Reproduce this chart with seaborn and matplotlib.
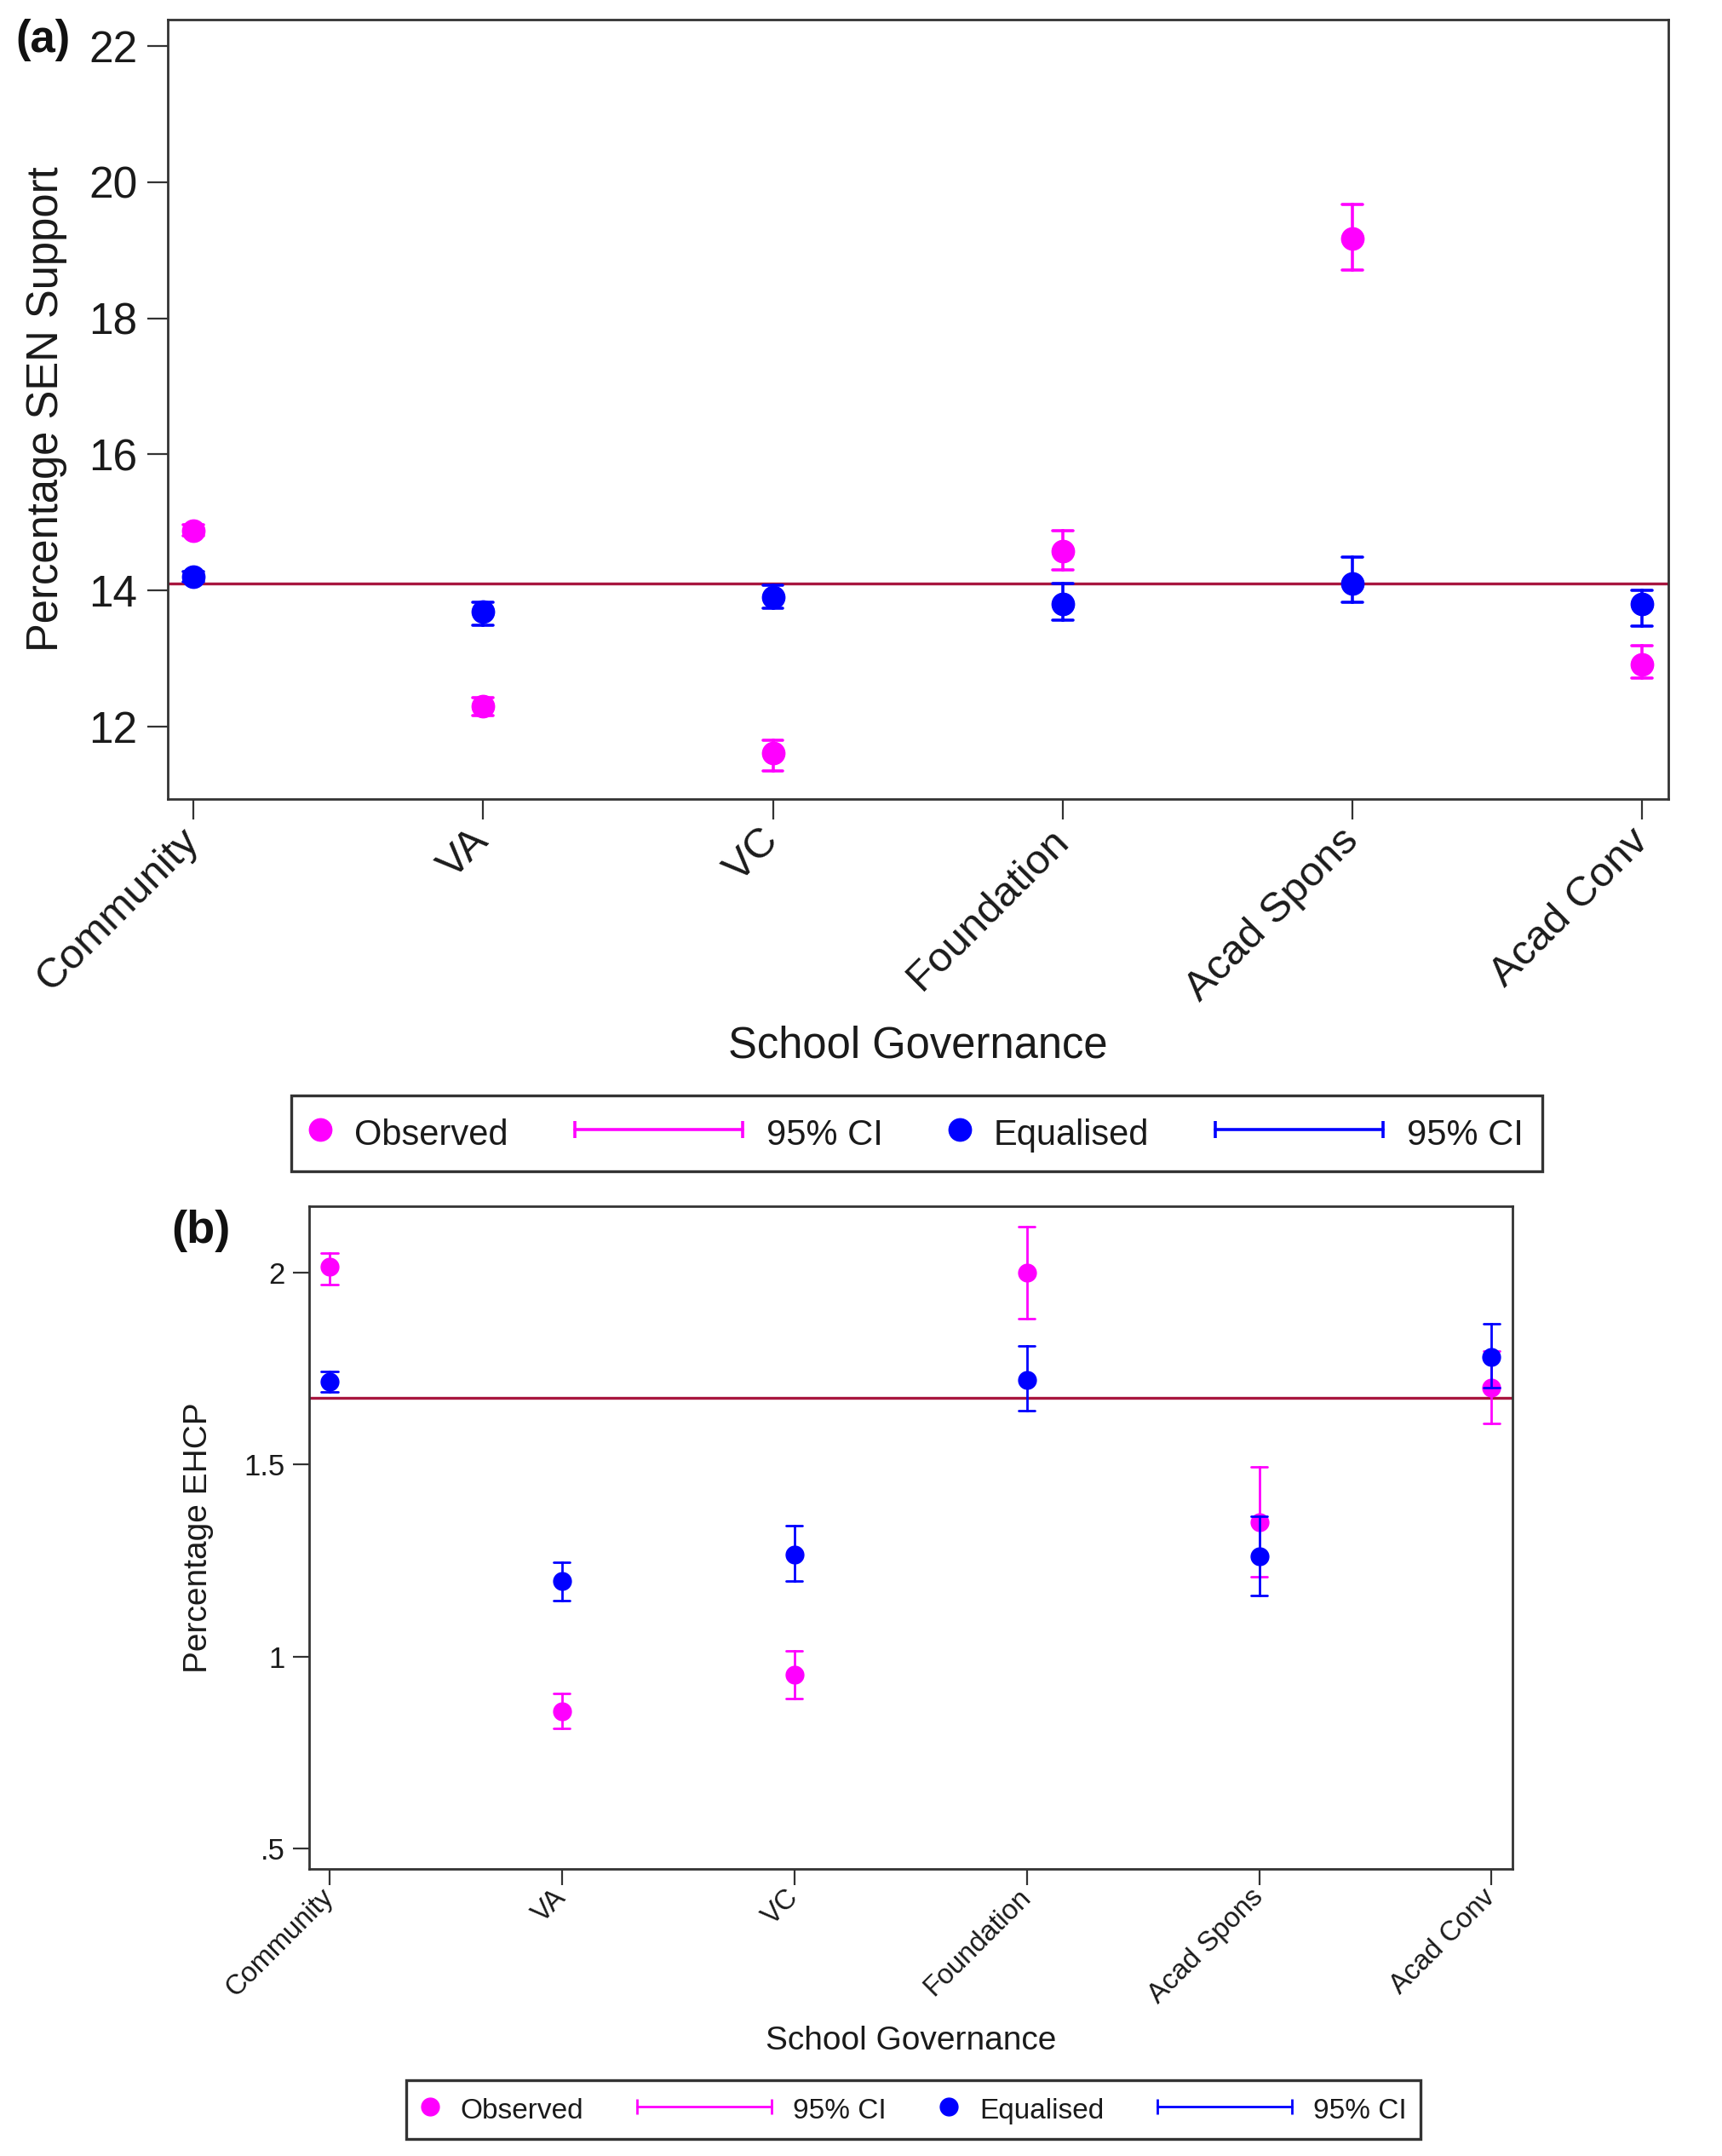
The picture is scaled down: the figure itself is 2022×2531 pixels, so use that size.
import pandas as pd
import matplotlib.pyplot as plt
import seaborn as sns
from matplotlib.lines import Line2D
from matplotlib.legend_handler import HandlerLine2D
from matplotlib.transforms import ScaledTranslation

governance = ['Community', 'VA', 'VC', 'Foundation', 'Acad Spons', 'Acad Conv']
series_order = ['Observed', 'Equalised']

# (a) percentage SEN support
sen_obs = [14.88, 12.29, 11.61, 14.58, 19.17, 12.91]
sen_obs_lo = [14.80, 12.16, 11.34, 14.30, 18.71, 12.71]
sen_obs_hi = [14.96, 12.42, 11.80, 14.88, 19.67, 13.19]
sen_eq = [14.20, 13.68, 13.90, 13.80, 14.10, 13.80]
sen_eq_lo = [14.13, 13.48, 13.73, 13.56, 13.82, 13.47]
sen_eq_hi = [14.27, 13.82, 14.07, 14.10, 14.49, 14.00]
sen_overall = 14.1
sen_ticks = [12, 14, 16, 18, 20, 22]
sen_ticklabels = ['12', '14', '16', '18', '20', '22']

# (b) percentage EHCP
ehcp_obs = [2.015, 0.857, 0.953, 2.00, 1.35, 1.70]
ehcp_obs_lo = [1.97, 0.814, 0.89, 1.88, 1.207, 1.607]
ehcp_obs_hi = [2.05, 0.904, 1.015, 2.12, 1.495, 1.795]
ehcp_eq = [1.716, 1.196, 1.265, 1.72, 1.262, 1.78]
ehcp_eq_lo = [1.69, 1.146, 1.196, 1.64, 1.16, 1.70]
ehcp_eq_hi = [1.743, 1.245, 1.34, 1.81, 1.366, 1.867]
ehcp_overall = 1.674
ehcp_ticks = [0.5, 1, 1.5, 2]
ehcp_ticklabels = ['.5', '1', '1.5', '2']

MAGENTA = '#ff00ff'
BLUE = '#0000ff'
REFLINE = '#a8163f'
DARK = '#333333'
palette = {'Observed': MAGENTA, 'Equalised': BLUE}


def long_frame(obs, obs_lo, obs_hi, eq, eq_lo, eq_hi):
    # three rows per point (lower, estimate, upper) so the median is the
    # estimate and min/max are the CI ends
    rows = []
    for name, est, lo, hi in [('Observed', obs, obs_lo, obs_hi),
                              ('Equalised', eq, eq_lo, eq_hi)]:
        for g, e, l, h in zip(governance, est, lo, hi):
            for v in (l, e, h):
                rows.append({'governance': g, 'series': name, 'value': v})
    return pd.DataFrame(rows)


class SizedHandler(HandlerLine2D):
    """Line2D handler with its own handle width (in font-size units)."""

    def __init__(self, width_em, **kw):
        super().__init__(**kw)
        self.width_em = width_em

    def legend_artist(self, legend, orig_handle, fontsize, handlebox):
        handlebox.width = self.width_em * fontsize
        return super().legend_artist(legend, orig_handle, fontsize, handlebox)


def draw_panel(ax, df, overall, ticks, ticklabels, ylim, ylabel, fs_tick, fs_xtick,
               fs_label, msize, elw, tick_len, ylab_x, xlab_y, ypad, xpad, xshift):
    ax.axhline(overall, color=REFLINE, lw=2.4, zorder=1)
    sns.pointplot(data=df, x='governance', y='value', hue='series',
                  order=governance, hue_order=series_order, palette=palette,
                  estimator='median', errorbar=lambda v: (v.min(), v.max()),
                  dodge=False, linestyle='none', markers='o', capsize=0.07,
                  err_kws={'linewidth': elw}, markersize=msize,
                  markeredgewidth=1, legend=False, ax=ax)
    ax.set_xlim(-0.088, 5.09)
    ax.set_ylim(*ylim)
    ax.set_yticks(ticks)
    ax.set_yticklabels(ticklabels)
    ax.set_xlabel('School Governance', fontsize=fs_label, color='#1a1a1a')
    ax.set_ylabel(ylabel, fontsize=fs_label, color='#1a1a1a')
    ax.xaxis.set_label_coords(0.5, xlab_y)
    ax.yaxis.set_label_coords(ylab_x, 0.5)
    ax.tick_params(axis='both', direction='out', length=tick_len, width=1.6,
                   color=DARK, labelcolor='#1a1a1a')
    ax.tick_params(axis='y', pad=ypad, labelsize=fs_tick)
    ax.tick_params(axis='x', pad=xpad, labelsize=fs_xtick)
    shift = ScaledTranslation(xshift[0] / 100, xshift[1] / 100, ax.figure.dpi_scale_trans)
    for lbl in ax.get_xticklabels():
        lbl.set_rotation(45)
        lbl.set_ha('right')
        lbl.set_rotation_mode('default')
        lbl.set_transform(lbl.get_transform() + shift)
    for sp in ax.spines.values():
        sp.set_visible(True)
        sp.set_color(DARK)
        sp.set_linewidth(2)


def add_legend(fig, anchor, fs, dot_size, cap_size, elw, dot_em, ci_em, textpad, colsp, bpad):
    obs_dot = Line2D([], [], color=MAGENTA, marker='o', linestyle='none',
                     markersize=dot_size, markeredgewidth=1)
    obs_ci = Line2D([], [], color=MAGENTA, lw=elw, marker='|',
                    markersize=cap_size, markeredgewidth=elw)
    eq_dot = Line2D([], [], color=BLUE, marker='o', linestyle='none',
                    markersize=dot_size, markeredgewidth=1)
    eq_ci = Line2D([], [], color=BLUE, lw=elw, marker='|',
                   markersize=cap_size, markeredgewidth=elw)
    hmap = {obs_dot: SizedHandler(dot_em, numpoints=1),
            eq_dot: SizedHandler(dot_em, numpoints=1),
            obs_ci: SizedHandler(ci_em, numpoints=2, marker_pad=0),
            eq_ci: SizedHandler(ci_em, numpoints=2, marker_pad=0)}
    leg = fig.legend(handles=[obs_dot, obs_ci, eq_dot, eq_ci],
                     labels=['Observed', '95% CI', 'Equalised', '95% CI'],
                     handler_map=hmap, loc='upper left', bbox_to_anchor=anchor,
                     borderaxespad=0, ncol=4, fontsize=fs, handletextpad=textpad,
                     columnspacing=colsp, borderpad=bpad, handleheight=1.2,
                     fancybox=False, framealpha=1, labelcolor='#1a1a1a')
    frame = leg.get_frame()
    frame.set_edgecolor(DARK)
    frame.set_linewidth(2.4)
    return leg


sns.set_theme(style='ticks')
plt.rcParams['font.family'] = ['Liberation Sans', 'DejaVu Sans']

W, H = 2022, 2531
fig = plt.figure(figsize=(W / 100, H / 100), dpi=100)
ax_a = fig.add_axes([197 / W, 1 - 938 / H, (1959 - 197) / W, (938 - 23) / H])
ax_b = fig.add_axes([363 / W, 1 - 2194 / H, (1776 - 363) / W, (2194 - 1416) / H])

df_sen = long_frame(sen_obs, sen_obs_lo, sen_obs_hi, sen_eq, sen_eq_lo, sen_eq_hi)
df_ehcp = long_frame(ehcp_obs, ehcp_obs_lo, ehcp_obs_hi, ehcp_eq, ehcp_eq_lo, ehcp_eq_hi)

draw_panel(ax_a, df_sen, sen_overall, sen_ticks, sen_ticklabels, (10.93, 22.39),
           'Percentage SEN Support', fs_tick=37, fs_xtick=35.5, fs_label=36.5,
           msize=19, elw=2.6, tick_len=17.5, ylab_x=-0.067, xlab_y=-0.29,
           ypad=8, xpad=1.5, xshift=(16, 0))
draw_panel(ax_b, df_ehcp, ehcp_overall, ehcp_ticks, ehcp_ticklabels, (0.447, 2.173),
           'Percentage EHCP', fs_tick=25, fs_xtick=23.5, fs_label=28,
           msize=15, elw=2.0, tick_len=13.7, ylab_x=-0.079, xlab_y=-0.237,
           ypad=6.5, xpad=2, xshift=(11, 4))

add_legend(fig, (342 / W, 1 - 1286 / H), fs=30, dot_size=19, cap_size=15, elw=2.6,
           dot_em=0.58, ci_em=4.73, textpad=0.67, colsp=1.87, bpad=0.535)
add_legend(fig, (477 / W, 1 - 2442 / H), fs=24, dot_size=15, cap_size=13, elw=2.0,
           dot_em=0.66, ci_em=4.74, textpad=0.75, colsp=1.88, bpad=0.5)

fig.text(18 / W, 1 - 22 / H, '(a)', fontsize=38, fontweight='bold', va='top', color='#111111')
fig.text(201 / W, 1 - 1420 / H, '(b)', fontsize=39, fontweight='bold', va='top', color='#111111')

fig.savefig('out.png', dpi=100, facecolor='white')
